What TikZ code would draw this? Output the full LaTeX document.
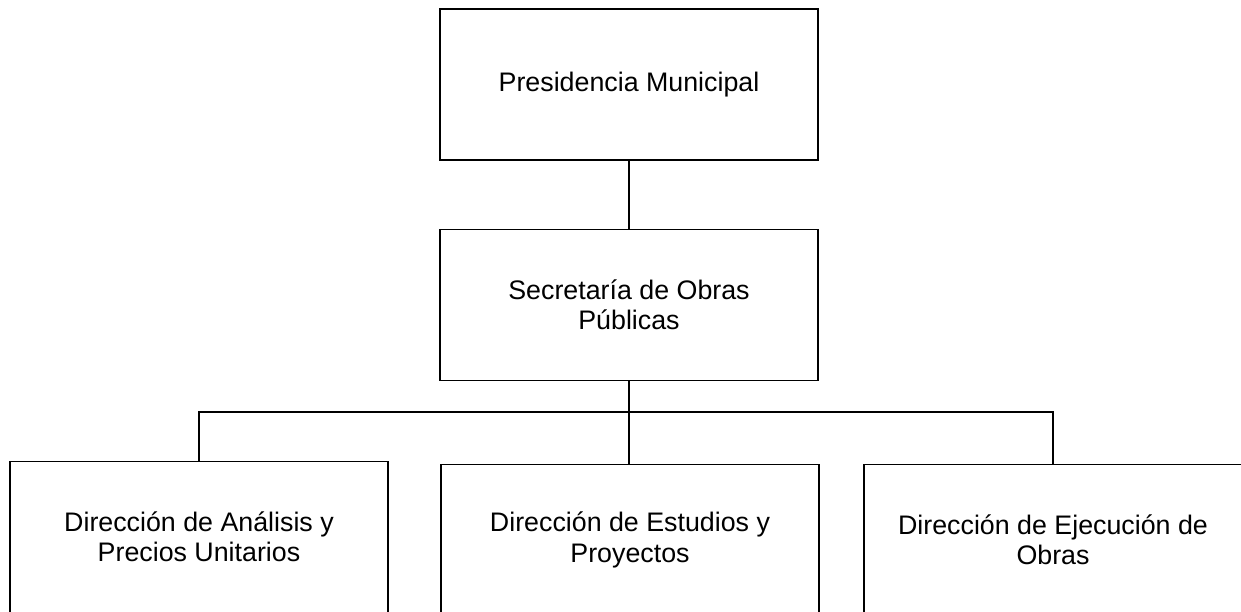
\documentclass[tikz,border=0pt]{standalone}
\usepackage{fontspec}
\setmainfont{Liberation Sans}
\usepackage{xcolor}
\usepackage{tikz}

\begin{document}
\begin{tikzpicture}[x=1pt,y=-1pt,
	unitbox/.style={draw, line width=1.4pt, minimum width=378pt, minimum height=151pt, inner sep=0pt, align=center, font=\fontsize{26.8}{30.5}\selectfont},
	link/.style={line width=1.4pt}]
	%set diagram frame: 1241 x 611
	\useasboundingbox (0,0) rectangle (1241,611);
	
	%Shape: Rectangle [presidencia]
	\node[unitbox] (pres) at (629,84.5) {Presidencia Municipal};
	%Shape: Rectangle [secretaria]
	\node[unitbox] (sec) at (629,305) {Secretaría de Obras\\Públicas};
	%Shape: Rectangle [direcciones]
	\node[unitbox] (analisis) at (199,537) {Dirección de Análisis y\\Precios Unitarios};
	\node[unitbox] (estudios) at (630,540) {Dirección de Estudios y\\Proyectos};
	\node[unitbox] (ejecucion) at (1053,540) {Dirección de Ejecución de\\Obras};
	
	%Straight Lines
	\coordinate (bus) at (629,412);
	\draw[link] (pres.south) -- (sec.north);
	\draw[link] (sec.south) -- (bus);
	\draw[link] (analisis.north) |- (bus) -| (ejecucion.north);
	\draw[link] (bus) -- (bus |- estudios.north);
	
\end{tikzpicture}
\end{document}
